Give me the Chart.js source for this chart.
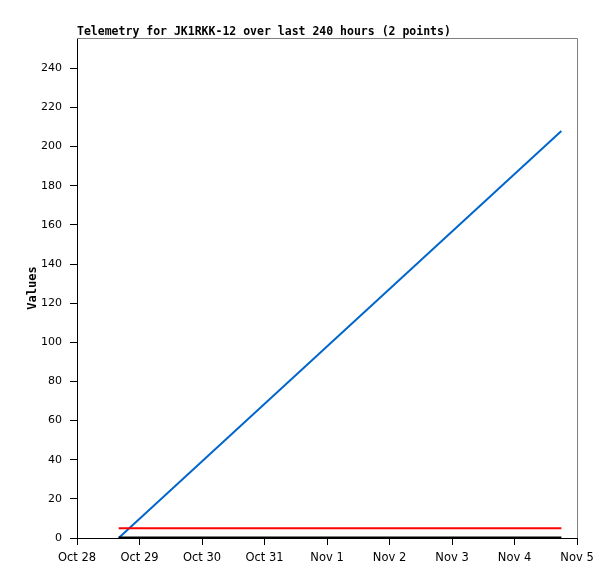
<!DOCTYPE html>
<html>
<head>
<meta charset="utf-8">
<script src="https://cdn.jsdelivr.net/npm/chart.js@4/dist/chart.umd.min.js"></script>
<style>
  html, body { margin: 0; padding: 0; background: #fff; }
  #chartCanvas { display: block; }
</style>
</head>
<body>
<canvas id="chartCanvas" width="615" height="579"></canvas>
<script>
// hours since Oct 28 00:00
const timesHours = [16, 186];
const seriesBlue = [0, 208];
const seriesRed = [5, 5];
const seriesBlack = [0, 0];
const dayLabels = ["Oct 28", "Oct 29", "Oct 30", "Oct 31", "Nov 1", "Nov 2", "Nov 3", "Nov 4", "Nov 5"];
const titleText = "Telemetry for JK1RKK-12 over last 240 hours (2 points)";

const toPoints = (vals) => vals.map((v, i) => ({ x: timesHours[i], y: v }));

// title at chartArea.left + gray top/right frame
const framePlugin = {
    id: "frame",
    afterDraw(chart) {
        const c = chart.ctx;
        const a = chart.chartArea;
        c.save();
        c.strokeStyle = "#7f7f7f";
        c.lineWidth = 1;
        c.beginPath();
        c.moveTo(a.left, a.top + 0.5);
        c.lineTo(a.right + 0.5, a.top + 0.5);
        c.lineTo(a.right + 0.5, a.bottom);
        c.stroke();
        c.fillStyle = "#000";
        c.font = "bold 11.5px 'DejaVu Sans Mono'";
        c.textBaseline = "alphabetic";
        c.fillText(titleText, a.left, a.top - 3);
        c.restore();
    }
};

const ctx = document.getElementById("chartCanvas").getContext("2d");

const config = {
    type: "line",
    data: {
        datasets: [
            {
                label: "black",
                data: toPoints(seriesBlack),
                borderColor: "#000000",
                borderWidth: 3,
                pointRadius: 0
            },
            {
                label: "red",
                data: toPoints(seriesRed),
                borderColor: "#ff0000",
                borderWidth: 2,
                pointRadius: 0
            },
            {
                label: "blue",
                data: toPoints(seriesBlue),
                borderColor: "#0066cc",
                borderWidth: 2,
                pointRadius: 0
            }
        ]
    },
    options: {
        responsive: false,
        animation: false,
        layout: { padding: { top: 38, right: 38, left: 0, bottom: 0 } },
        plugins: {
            legend: { display: false },
            tooltip: { enabled: false }
        },
        scales: {
            x: {
                type: "linear",
                min: 0,
                max: 192,
                afterFit: (s) => { s.height = 41; },
                border: { color: "#000", width: 1 },
                grid: { drawOnChartArea: false, tickLength: 7, color: "#000" },
                ticks: {
                    stepSize: 24,
                    maxRotation: 0,
                    autoSkip: false,
                    padding: 6,
                    color: "#000",
                    font: { family: "DejaVu Sans", size: 11.5 },
                    callback: (v) => dayLabels[Math.round(v / 24)]
                }
            },
            y: {
                min: 0,
                max: 255.5,
                afterFit: (s) => { s.width = 77; },
                border: { color: "#000", width: 1 },
                grid: { drawOnChartArea: false, tickLength: 7, color: "#000" },
                ticks: {
                    stepSize: 20,
                    includeBounds: false,
                    padding: 8,
                    color: "#000",
                    font: { family: "DejaVu Sans", size: 11 }
                },
                title: {
                    display: true,
                    text: "Values",
                    color: "#000",
                    font: { family: "DejaVu Sans Mono", size: 12, weight: "bold" },
                    padding: { top: 26, bottom: 0 }
                }
            }
        }
    },
    plugins: [framePlugin]
};

const chart = new Chart(ctx, config);
</script>
</body>
</html>
